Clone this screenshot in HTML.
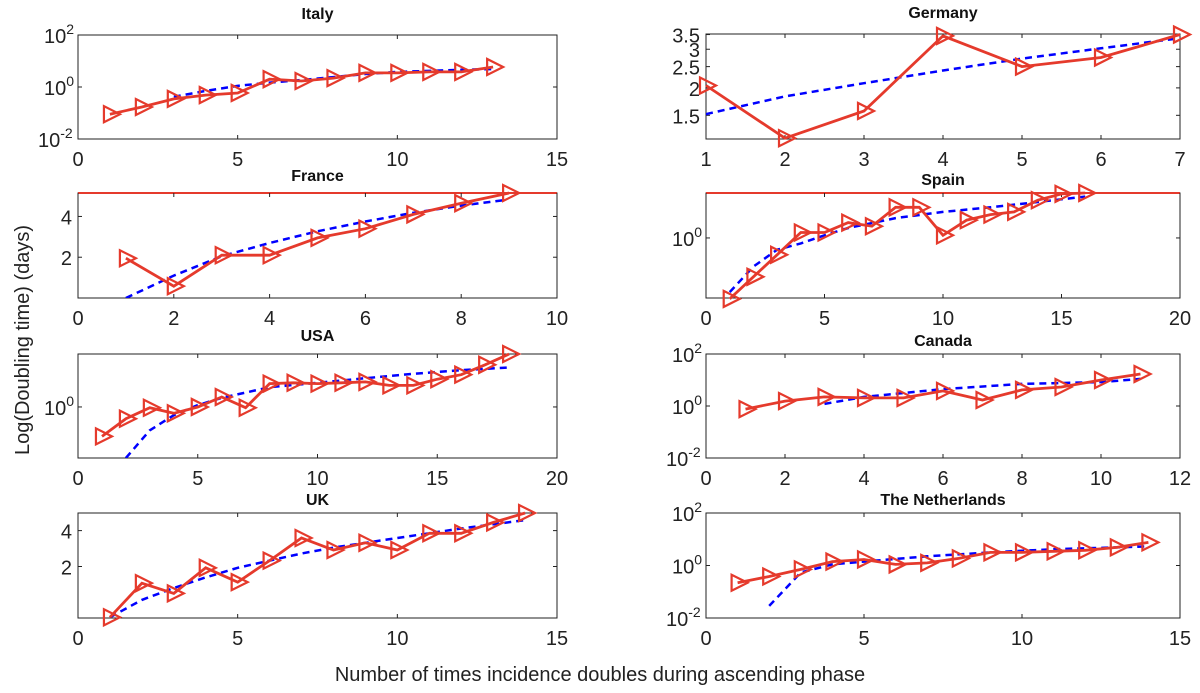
<!DOCTYPE html>
<html><head><meta charset="utf-8">
<style>
html,body{margin:0;padding:0;background:#fff;}
svg{display:block;font-family:"Liberation Sans",sans-serif;}
</style></head>
<body>
<svg id="chart" width="1200" height="693" viewBox="0 0 1200 693">
<text transform="translate(29,340) rotate(-90)" text-anchor="middle" font-size="20" fill="#222">Log(Doubling time) (days)</text>
<text x="600" y="681" text-anchor="middle" font-size="20" fill="#222">Number of times incidence doubles during ascending phase</text>
</svg>
<script>
// Data: observed doubling times (red) and fitted curves (blue), per country
const italyX = [1,2,3,4,5,6,7,8,9,10,11,12,13];
const italyY = [0.09,0.17,0.35,0.49,0.59,2.0,1.7,2.2,3.5,3.5,3.8,3.8,5.9];
const italyFitX = [3,4,5,6,7,8,9,10,11,12,13];
const italyFitY = [0.42,0.71,1.1,1.48,1.86,2.4,3.16,3.8,4.17,4.57,4.9];

const germanyX = [1,2,3,4,5,6,7];
const germanyY = [2.05,1.18,1.57,3.45,2.5,2.75,3.5];
const germanyFitX = [1,2,3,4,5,6,7];
const germanyFitY = [1.52,1.83,2.1,2.4,2.72,3.03,3.37];

const franceX = [1,2,3,4,5,6,7,8,9];
const franceY = [1.95,0.58,2.1,2.1,2.95,3.4,4.1,4.65,5.15];
const franceFitX = [1,2,3,4,5,6,7,8,8.9];
const franceFitY = [0,1.1,2.05,2.7,3.27,3.75,4.18,4.53,4.8];

const spainX = [1,2,3,4,5,6,7,8,9,10,11,12,13,14,15,16];
const spainY = [0.21,0.37,0.65,1.15,1.15,1.48,1.35,2.19,2.19,1.07,1.58,1.82,1.95,2.63,3.09,3.16];
const spainFitX = [1,2,3,4,5,6,8,10,12,14,16];
const spainFitY = [0.25,0.48,0.74,0.87,1.07,1.29,1.66,1.95,2.19,2.51,2.88];

const usaX = [1,2,3,4,5,6,7,8,9,10,11,12,13,14,15,16,17,18];
const usaY = [0.47,0.74,0.98,0.85,1.0,1.29,0.98,1.82,1.86,1.82,1.86,1.9,1.74,1.74,2.04,2.29,2.95,3.89];
const usaFitX = [2,3,4,5,6,8,10,12,14,16,18];
const usaFitY = [0.27,0.55,0.81,1.05,1.26,1.66,1.86,2.09,2.34,2.57,2.75];

const canadaX = [1,2,3,4,5,6,7,8,9,10,11];
const canadaY = [0.76,1.55,2.24,2.04,2.04,3.8,1.7,4.17,5.37,10,17];
const canadaFitX = [3,4,5,6,8,10,11];
const canadaFitY = [1.2,2.24,3.16,4.47,7.08,8.3,11];

const ukX = [1,2,3,4,5,6,7,8,9,10,11,12,13,14];
const ukY = [0.75,1.45,1.19,1.95,1.48,2.24,3.47,2.75,3.16,2.75,3.8,3.8,4.68,5.62];
const ukFitX = [1,2,3,4,5,6,7,8,10,12,14];
const ukFitY = [0.75,1.05,1.32,1.62,1.95,2.24,2.57,2.88,3.47,4.17,4.9];

const nlX = [1,2,3,4,5,6,7,8,9,10,11,12,13,14];
const nlY = [0.22,0.38,0.71,1.41,1.7,1.1,1.26,1.86,3.16,3.16,3.47,3.8,4.9,7.6];
const nlFitX = [2,3,4,5,7,9,11,13,14];
const nlFitY = [0.029,0.54,1.1,1.41,2.24,3.16,4.17,4.9,5.37];

const italyXTicks = [0,5,10,15];
const germanyXTicks = [1,2,3,4,5,6,7];
const franceXTicks = [0,2,4,6,8,10];
const spainXTicks = [0,5,10,15,20];
const usaXTicks = [0,5,10,15,20];
const canadaXTicks = [0,2,4,6,8,10,12];
const ukXTicks = [0,5,10,15];
const nlXTicks = [0,5,10,15];

const panels = [
 {name:'italy',title:'Italy',box:[78,557,35,139],xd:[0,15],yd:[0.01,100],log:true,xt:italyXTicks,yt:[[0.01,'-2'],[1,'0'],[100,'2']],X:italyX,Y:italyY,FX:italyFitX,FY:italyFitY,titleY:19},
 {name:'germany',title:'Germany',box:[706,1180,34,139],xd:[1,7],yd:[1.17,3.52],log:true,xt:germanyXTicks,yt:[[1.5,'1.5'],[2,'2'],[2.5,'2.5'],[3,'3'],[3.5,'3.5']],X:germanyX,Y:germanyY,FX:germanyFitX,FY:germanyFitY,titleY:18},
 {name:'france',title:'France',box:[78,557,193,298],xd:[0,10],yd:[0,5.15],log:false,xt:franceXTicks,yt:[[2,'2'],[4,'4']],X:franceX,Y:franceY,FX:franceFitX,FY:franceFitY,titleY:181,redTop:true},
 {name:'spain',title:'Spain',box:[706,1180,193,298],xd:[0,20],yd:[0.215,3.16],log:true,xt:spainXTicks,yt:[[1,'0']],X:spainX,Y:spainY,FX:spainFitX,FY:spainFitY,titleY:185,redTop:true},
 {name:'usa',title:'USA',box:[78,557,354,458],xd:[0,20],yd:[0.27,3.89],log:true,xt:usaXTicks,yt:[[1,'0']],X:usaX,Y:usaY,FX:usaFitX,FY:usaFitY,titleY:341},
 {name:'canada',title:'Canada',box:[706,1180,354,458],xd:[0,12],yd:[0.01,100],log:true,xt:canadaXTicks,yt:[[0.01,'-2'],[1,'0'],[100,'2']],X:canadaX,Y:canadaY,FX:canadaFitX,FY:canadaFitY,titleY:346},
 {name:'uk',title:'UK',box:[78,557,513,618],xd:[0,15],yd:[0.74,5.62],log:true,xt:ukXTicks,yt:[[2,'2'],[4,'4']],X:ukX,Y:ukY,FX:ukFitX,FY:ukFitY,titleY:505},
 {name:'netherlands',title:'The Netherlands',box:[706,1180,513,618],xd:[0,15],yd:[0.01,100],log:true,xt:nlXTicks,yt:[[0.01,'-2'],[1,'0'],[100,'2']],X:nlX,Y:nlY,FX:nlFitX,FY:nlFitY,titleY:505}
];

const NS='http://www.w3.org/2000/svg';
const svg=document.getElementById('chart');
function mk(tag,attrs,parent){const e=document.createElementNS(NS,tag);for(const k in attrs)e.setAttribute(k,attrs[k]);(parent||svg).appendChild(e);return e;}
const RED='#e53a2c', BLUE='#0000ff';

panels.forEach((p,pi)=>{
  const [x0,x1,y0,y1]=p.box;
  const sx=v=>x0+(v-p.xd[0])/(p.xd[1]-p.xd[0])*(x1-x0);
  const tf=v=>p.log?Math.log10(v):v;
  const sy=v=>y1-(tf(v)-tf(p.yd[0]))/(tf(p.yd[1])-tf(p.yd[0]))*(y1-y0);
  const g=mk('g',{});
  
  
  const t=mk('text',{x:(x0+x1)/2,y:p.titleY,'text-anchor':'middle','font-size':16,'font-weight':'bold',fill:'#111'},g);
  t.textContent=p.title;
  
  
  const clipId='clip'+pi;
  const cp=mk('clipPath',{id:clipId},g);
  mk('rect',{x:x0,y:y0,width:x1-x0,height:y1-y0},cp);
  const fr=mk('rect',{x:x0,y:y0,width:x1-x0,height:y1-y0,fill:'none',stroke:'#222','stroke-width':1},g);
  
  
  if(p.redTop){mk('line',{x1:x0,y1:y0,x2:x1,y2:y0,stroke:RED,'stroke-width':2},g);}
  p.xt.forEach(v=>{
    const x=sx(v);
    mk('line',{x1:x,y1:y1,x2:x,y2:y1-4,stroke:'#222'},g);
    mk('line',{x1:x,y1:y0,x2:x,y2:y0+4,stroke:'#222'},g);
    const tl=mk('text',{x:x,y:y1+27,'text-anchor':'middle','font-size':20,fill:'#222'},g);
    tl.textContent=v;
    
    
  });
  p.yt.forEach(([v,lab])=>{
    const y=sy(v);
    mk('line',{x1:x0,y1:y,x2:x0+4,y2:y,stroke:'#222'},g);
    mk('line',{x1:x1,y1:y,x2:x1-4,y2:y,stroke:'#222'},g);
    const tl=mk('text',{x:x0-6,y:y+8,'text-anchor':'end','font-size':20,fill:'#222'},g);
    
    
    if(p.log && p.name!=='germany' && p.name!=='uk'){
      tl.textContent='10';
      const sup=mk('tspan',{'font-size':14,dy:-9},tl);
      sup.textContent=lab;
      tl.setAttribute('x',x0-4-(lab.length>1?14:8)-22);
      tl.setAttribute('text-anchor','start');
    } else tl.textContent=lab;
  });
  const fd=p.FX.map((v,i)=>(i?'L':'M')+sx(v).toFixed(1)+','+sy(Math.max(p.FY[i],1e-9)).toFixed(1)).join(' ');
  const fl=mk('path',{d:fd,fill:'none',stroke:BLUE,'stroke-width':2.5,'stroke-dasharray':'7,5','clip-path':'url(#'+clipId+')'},g);
  
  
  const dd=p.X.map((v,i)=>(i?'L':'M')+sx(v).toFixed(1)+','+sy(p.Y[i]).toFixed(1)).join(' ');
  const dl=mk('path',{d:dd,fill:'none',stroke:RED,'stroke-width':2.8},g);
  
  
  p.X.forEach((v,i)=>{
    const x=sx(v),y=sy(p.Y[i]);
    const m=mk('polygon',{points:`${x-6},${y-8} ${x-6},${y+8} ${x+10},${y}`,fill:'none',stroke:RED,'stroke-width':2.2},g);
    
    
  });
});
</script>
</body></html>
